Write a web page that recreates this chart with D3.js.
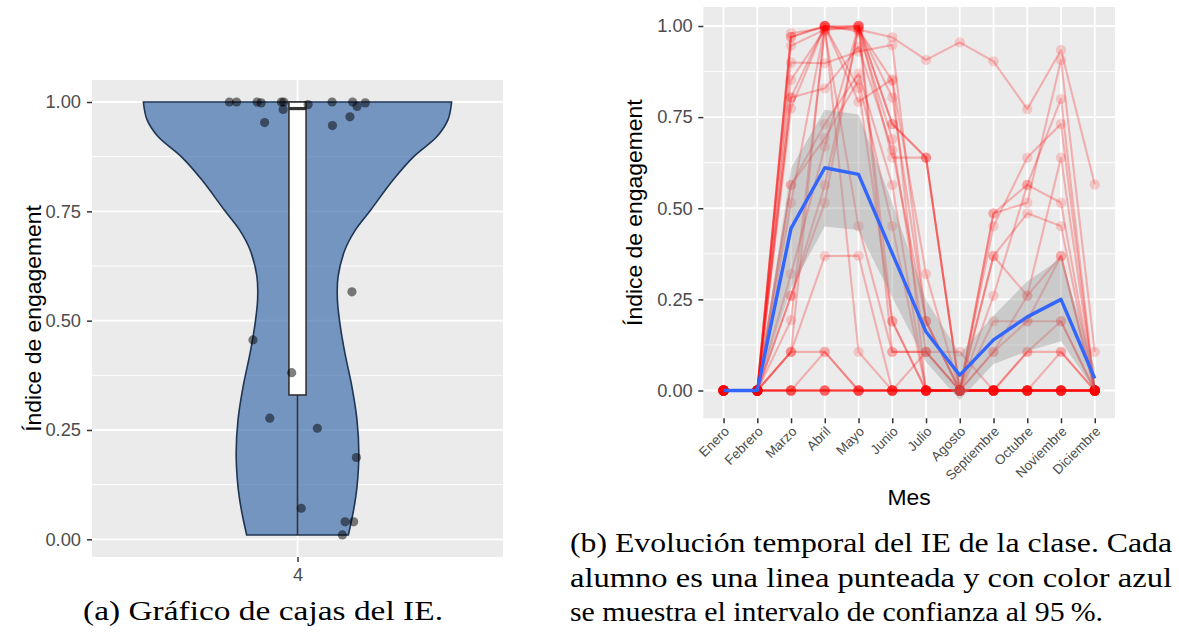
<!DOCTYPE html>
<html>
<head>
<meta charset="utf-8">
<script src="https://cdn.jsdelivr.net/npm/d3@7"></script>
<style>
  body { margin: 0; background: #ffffff; }
  svg { display: block; }
</style>
</head>
<body>
<svg id="chart" width="1179" height="633"></svg>
<script>
// ---------------- DATA ----------------
// Panel (a): violin + box + jitter of IE for group "4"
const violinGroup = ["4"];
const violinY     = [0.010, 0.067, 0.120, 0.197, 0.273, 0.349, 0.425, 0.494, 0.547, 0.600, 0.662, 0.707, 0.753, 0.822, 0.875, 0.921, 0.959, 1.000];
const violinWidth = [0.330, 0.364, 0.386, 0.398, 0.386, 0.353, 0.308, 0.275, 0.259, 0.263, 0.308, 0.375, 0.475, 0.621, 0.754, 0.905, 0.976, 1.000];
const boxStats    = [0.010, 0.330, 0.985, 1.000, 1.000]; // min, Q1, median, Q3, max
const jitterValue  = [1.000, 1.000, 1.000, 0.998, 1.000, 1.000, 0.983, 0.994, 1.000, 1.000, 0.998, 0.990, 0.953, 0.946, 0.966, 0.566, 0.456, 0.381, 0.277, 0.254, 0.187, 0.071, 0.040, 0.040, 0.010];
const jitterOffset = [-0.199, -0.178, -0.118, -0.106, -0.047, -0.040, -0.042, 0.031, 0.101, 0.161, 0.198, 0.174, -0.096, 0.102, 0.153, 0.159, -0.130, -0.017, -0.081, 0.058, 0.172, 0.011, 0.139, 0.164, 0.131];

// Panel (b): monthly IE per student + mean and 95% CI
const months = ["Enero", "Febrero", "Marzo", "Abril", "Mayo", "Junio", "Julio", "Agosto", "Septiembre", "Octubre", "Noviembre", "Diciembre"];
const studentIE = [
  [0, 0, 0.970, 1.000, 0.990, 0.969, 0.907, 0.955, 0.903, 0.772, 0.934, 0.565],
  [0, 0, 0.900, 0.898, 0.930, 0.948, 0.190, 0,     0.486, 0.515, 0.907, 0.106],
  [0, 0, 0.980, 0.995, 1.000, 0.731, 0.639, 0,     0.486, 0.564, 0.800, 0],
  [0, 0, 0.970, 1.000, 0.792, 0.854, 0.320, 0,     0.451, 0.639, 0.731, 0],
  [0, 0, 0.946, 0.990, 0.995, 0.804, 0.190, 0,     0.369, 0.260, 0.639, 0],
  [0, 0, 0.852, 0.990, 1.000, 0.731, 0.639, 0,     0.260, 0.564, 0.515, 0],
  [0, 0, 0.804, 1.000, 0.985, 0.690, 0.106, 0,     0.369, 0.486, 0.451, 0],
  [0, 0, 0.804, 0.829, 0.943, 0.660, 0.190, 0,     0.190, 0.190, 0.369, 0],
  [0, 0, 0.774, 1.000, 1.000, 0.639, 0.639, 0,     0.106, 0.260, 0.369, 0],
  [0, 0, 0.564, 0.731, 0.870, 0.564, 0,     0,     0.106, 0.190, 0.190, 0],
  [0, 0, 0.564, 0.692, 0.852, 0.451, 0,     0,     0,     0.106, 0.190, 0],
  [0, 0, 0.515, 1.000, 0.830, 0.190, 0,     0,     0,     0.106, 0.106, 0],
  [0, 0, 0.320, 0.669, 1.000, 0.190, 0,     0,     0,     0,     0.106, 0],
  [0, 0, 0.260, 0.564, 0.990, 0.850, 0,     0,     0,     0,     0,     0],
  [0, 0, 0.260, 0.515, 1.000, 0.106, 0.106, 0.106, 0,     0,     0,     0],
  [0, 0, 0.193, 0.985, 0.451, 0.106, 0.106, 0,     0,     0,     0,     0],
  [0, 0, 0.106, 0.369, 0.370, 0,     0.106, 0,     0,     0,     0,     0],
  [0, 0, 0.106, 1.000, 0.106, 0,     0,     0,     0,     0,     0,     0],
  [0, 0, 0.106, 0.106, 0,     0,     0,     0,     0,     0,     0,     0],
  [0, 0, 0,     0.106, 0,     0,     0,     0,     0,     0,     0,     0],
  [0, 0, 0,     0,     0,     0,     0,     0,     0,     0,     0,     0],
  [0, 0, 0,     0,     0,     0,     0,     0,     0,     0,     0,     0],
  [0, 0, 0,     0,     0,     0,     0,     0,     0,     0,     0,     0],
  [0, 0, 0,     0,     0,     0,     0,     0,     0,     0,     0,     0],
  [0, 0, 0,     0,     0,     0,     0,     0,     0,     0,     0,     0]
];
const meanIE = [0, 0, 0.445, 0.611, 0.593, 0.376, 0.161, 0.042, 0.139, 0.202, 0.250, 0.033];
const ciLow  = [0, 0, 0.280, 0.450, 0.440, 0.255, 0.078, -0.026, 0.073, 0.108, 0.135, 0.000];
const ciHigh = [0, 0, 0.610, 0.770, 0.757, 0.515, 0.248, 0.100, 0.205, 0.300, 0.362, 0.062];

const yTicks = [0, 0.25, 0.5, 0.75, 1];
const yMinor = [0.125, 0.375, 0.625, 0.875];
const yTitle = "Índice de engagement";
const xTitleB = "Mes";
const captionA = "(a) Gráfico de cajas del IE.";
const captionB = ["(b) Evolución temporal del IE de la clase. Cada",
                  "alumno es una linea punteada y con color azul",
                  "se muestra el intervalo de confianza al 95\u2009%."];

// ---------------- DRAW ----------------
const svg = d3.select("#chart");
const SANS = "'Liberation Sans', Arial, Helvetica, sans-serif";
const SERIF = "'Liberation Serif', 'Times New Roman', serif";
const PANEL_BG = "#EBEBEB";
const fmt = d3.format(".2f");

function styleAxis(g, fontSize) {
  g.select(".domain").remove();
  g.selectAll(".tick line").attr("stroke", "#333333").attr("stroke-width", 1.5);
  g.selectAll(".tick text").attr("fill", "#4D4D4D").attr("font-family", SANS).attr("font-size", fontSize);
}

// ===== Panel (a) =====
const A = { x0: 92, x1: 503, y0: 80, y1: 557 };
const yA = d3.scaleLinear().domain([0, 1]).range([539.3, 102]);
const xA = d3.scalePoint().domain(violinGroup).range([A.x0, A.x1]).padding(0.5);
const uA = d3.scaleLinear().domain([0, 1]).range([0, (A.x1 - A.x0) / 1.2]); // width of one x unit

const gA = svg.append("g");
gA.append("rect").attr("x", A.x0).attr("y", A.y0).attr("width", A.x1 - A.x0).attr("height", A.y1 - A.y0).attr("fill", PANEL_BG);
gA.selectAll("line.minor").data(yMinor).join("line")
  .attr("x1", A.x0).attr("x2", A.x1).attr("y1", d => yA(d)).attr("y2", d => yA(d))
  .attr("stroke", "#fff").attr("stroke-width", 0.9);
gA.selectAll("line.major").data(yTicks).join("line")
  .attr("x1", A.x0).attr("x2", A.x1).attr("y1", d => yA(d)).attr("y2", d => yA(d))
  .attr("stroke", "#fff").attr("stroke-width", 1.8);
gA.selectAll("line.vmajor").data(violinGroup).join("line")
  .attr("x1", d => xA(d)).attr("x2", d => xA(d)).attr("y1", A.y0).attr("y2", A.y1)
  .attr("stroke", "#fff").attr("stroke-width", 1.8);

// violin
const cx = xA(violinGroup[0]);
const violinData = violinY.map((v, i) => ({ v, w: violinWidth[i] }));
const area = d3.area()
  .y(d => yA(d.v))
  .x0(d => cx - uA(0.45 * d.w))
  .x1(d => cx + uA(0.45 * d.w))
  .curve(d3.curveCatmullRom.alpha(0.5));
gA.append("path").datum(violinData).attr("d", area)
  .attr("fill", "#4271AE").attr("fill-opacity", 0.7)
  .attr("stroke", "#1F3552").attr("stroke-width", 1.6);

// box
const bw = uA(0.025);
gA.append("line").attr("x1", cx).attr("x2", cx).attr("y1", yA(boxStats[0])).attr("y2", yA(boxStats[1]))
  .attr("stroke", "#333333").attr("stroke-width", 1.6);
gA.append("rect").attr("x", cx - bw).attr("width", 2 * bw)
  .attr("y", yA(boxStats[3])).attr("height", yA(boxStats[1]) - yA(boxStats[3]))
  .attr("fill", "#ffffff").attr("stroke", "#333333").attr("stroke-width", 1.6);
gA.append("line").attr("x1", cx - bw).attr("x2", cx + bw).attr("y1", yA(boxStats[2])).attr("y2", yA(boxStats[2]))
  .attr("stroke", "#333333").attr("stroke-width", 3.2);

// jitter points
gA.selectAll("circle.j").data(jitterValue).join("circle")
  .attr("cx", (d, i) => cx + uA(jitterOffset[i]))
  .attr("cy", d => yA(d))
  .attr("r", 4.6)
  .attr("fill", "#000").attr("fill-opacity", 0.5);

// axes
const axLA = svg.append("g").attr("transform", `translate(${A.x0},0)`)
  .call(d3.axisLeft(yA).tickValues(yTicks).tickFormat(fmt).tickSize(5).tickPadding(6));
styleAxis(axLA, 18.3);
const axBA = svg.append("g").attr("transform", `translate(0,${A.y1})`)
  .call(d3.axisBottom(xA).tickSize(5).tickPadding(6.5));
styleAxis(axBA, 18.3);

svg.append("text").attr("transform", `translate(41,${(A.y0 + A.y1) / 2}) rotate(-90)`)
  .attr("text-anchor", "middle").attr("font-family", SANS).attr("font-size", 22.9).attr("fill", "#000")
  .text(yTitle);

// ===== Panel (b) =====
const B = { x0: 703.3, x1: 1115, y0: 7, y1: 418.3 };
const yB = d3.scaleLinear().domain([0, 1]).range([390.5, 26]);
const xB = d3.scalePoint().domain(months).range([B.x0, B.x1]).padding(0.6);

const gB = svg.append("g");
gB.append("rect").attr("x", B.x0).attr("y", B.y0).attr("width", B.x1 - B.x0).attr("height", B.y1 - B.y0).attr("fill", PANEL_BG);
gB.selectAll("line.minor").data(yMinor).join("line")
  .attr("x1", B.x0).attr("x2", B.x1).attr("y1", d => yB(d)).attr("y2", d => yB(d))
  .attr("stroke", "#fff").attr("stroke-width", 0.9);
gB.selectAll("line.major").data(yTicks).join("line")
  .attr("x1", B.x0).attr("x2", B.x1).attr("y1", d => yB(d)).attr("y2", d => yB(d))
  .attr("stroke", "#fff").attr("stroke-width", 1.8);
gB.selectAll("line.vmajor").data(months).join("line")
  .attr("x1", d => xB(d)).attr("x2", d => xB(d)).attr("y1", B.y0).attr("y2", B.y1)
  .attr("stroke", "#fff").attr("stroke-width", 1.8);

const lineB = d3.line().x((d, i) => xB(months[i])).y(d => yB(d));
gB.selectAll("path.student").data(studentIE).join("path")
  .attr("d", lineB).attr("fill", "none")
  .attr("stroke", "#FF0000").attr("stroke-opacity", 0.26).attr("stroke-width", 2.1)
  .attr("stroke-linejoin", "round");
studentIE.forEach(row => {
  gB.append("g").selectAll("circle").data(row).join("circle")
    .attr("cx", (d, i) => xB(months[i])).attr("cy", d => yB(d)).attr("r", 5.2)
    .attr("fill", "#FF0000").attr("fill-opacity", 0.16);
});

const ribbon = d3.area()
  .x((d, i) => xB(months[i]))
  .y0((d, i) => yB(ciLow[i]))
  .y1((d, i) => yB(ciHigh[i]));
gB.append("path").datum(meanIE).attr("d", ribbon).attr("fill", "#999999").attr("fill-opacity", 0.4);
gB.append("path").datum(meanIE).attr("d", lineB).attr("fill", "none")
  .attr("stroke", "#3366FF").attr("stroke-width", 3.4).attr("stroke-linejoin", "round");

const axLB = svg.append("g").attr("transform", `translate(${B.x0},0)`)
  .call(d3.axisLeft(yB).tickValues(yTicks).tickFormat(fmt).tickSize(5).tickPadding(5.5));
styleAxis(axLB, 18.3);
const axBB = svg.append("g").attr("transform", `translate(0,${B.y1})`)
  .call(d3.axisBottom(xB).tickSize(5));
styleAxis(axBB, 13.5);
axBB.selectAll(".tick text")
  .attr("text-anchor", "end").attr("y", 0).attr("dy", 0)
  .attr("transform", "translate(6,14) rotate(-45)");

svg.append("text").attr("transform", `translate(642,${(B.y0 + B.y1) / 2}) rotate(-90)`)
  .attr("text-anchor", "middle").attr("font-family", SANS).attr("font-size", 22.9).attr("fill", "#000")
  .text(yTitle);
svg.append("text").attr("x", (B.x0 + B.x1) / 2).attr("y", 505)
  .attr("text-anchor", "middle").attr("font-family", SANS).attr("font-size", 22.9).attr("fill", "#000")
  .text(xTitleB);

// ===== Captions =====
const capFont = 27;
svg.append("text").attr("x", 83).attr("y", 620)
  .attr("font-family", SERIF).attr("font-size", capFont).attr("fill", "#000")
  .attr("textLength", 360).attr("lengthAdjust", "spacingAndGlyphs")
  .text(captionA);
const capBaselines = [552, 587, 621];
const capWidths = [602, 602, 533];
captionB.forEach((t, i) => {
  svg.append("text").attr("x", 570).attr("y", capBaselines[i])
    .attr("font-family", SERIF).attr("font-size", capFont).attr("fill", "#000")
    .attr("textLength", capWidths[i]).attr("lengthAdjust", "spacingAndGlyphs")
    .text(t);
});
</script>
</body>
</html>
